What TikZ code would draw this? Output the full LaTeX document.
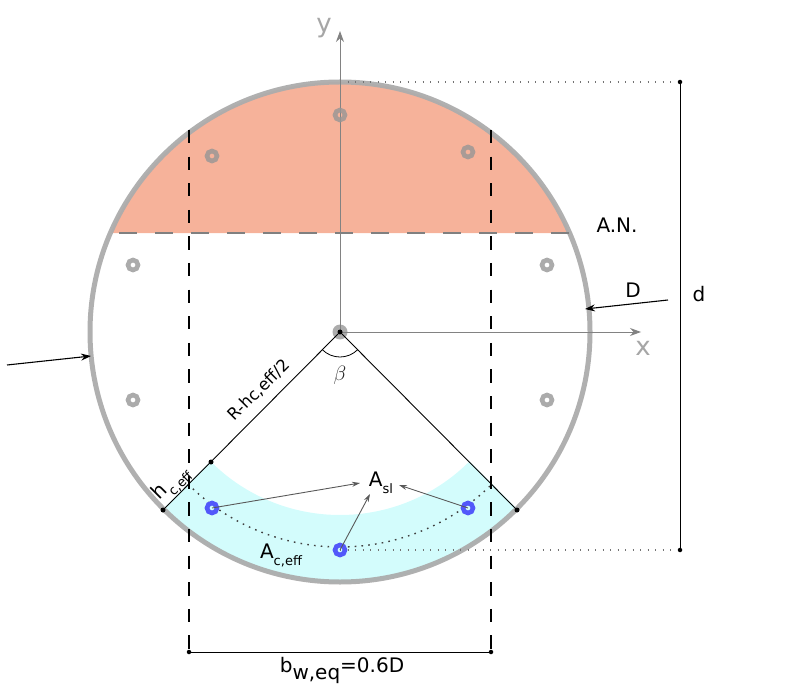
\documentclass[tikz,border=0pt]{standalone}
\usepackage{fontspec}
\setmainfont{DejaVu Sans}
\usetikzlibrary{arrows.meta}
\definecolor{ringgray}{RGB}{172,172,172}
\definecolor{rebargray}{RGB}{150,150,150}
\definecolor{axisgray}{RGB}{130,130,130}
\definecolor{rebarblue}{RGB}{82,88,250}
\definecolor{compzone}{RGB}{246,178,154}
\definecolor{tenszone}{RGB}{211,252,252}
\newcommand{\lowtxt}[2][13]{\raisebox{-0.35em}{\fontsize{#1}{#1}\selectfont #2}}
\begin{document}
\begin{tikzpicture}[x=1pt,y=-1pt,
    every node/.style = {font=\fontsize{20}{22}\selectfont},
    rebar/.style      = {circle, draw, line width=4.6pt, minimum size=10pt, inner sep=0pt},
    rebartop/.style   = {rebar, draw=rebargray, draw opacity=0.8},
    rebarlow/.style   = {rebar, draw=rebarblue},
    blackdot/.style   = {circle, fill=black, minimum size=5pt, inner sep=0pt},
    axisline/.style   = {draw=axisgray, line width=0.9pt, -{Stealth[length=11pt,width=8pt]}},
    leader/.style     = {draw=black!65, line width=0.9pt, -{Stealth[length=8pt,width=5pt]}},
    dimline/.style    = {draw=black, line width=0.8pt},
    dashline/.style   = {draw=black, line width=2.4pt, dash pattern=on 13.3pt off 13.3pt},
    dotline/.style    = {draw=black!55, line width=1.4pt, dash pattern=on 1.4pt off 6.1pt}]
  \useasboundingbox (0,0) rectangle (800,700);
  \coordinate (C) at (340,332);

  % zones
  \fill[compzone] (C) ++(203.3:250) arc[start angle=203.3, end angle=336.7, radius=250] -- cycle;
  \fill[tenszone] (C) ++(135:251) arc[start angle=135, end angle=45, radius=251]
    -- ++(225:68) arc[start angle=45, end angle=135, radius=183] -- cycle;

  % section outline and neutral axis
  \draw[ringgray, draw opacity=0.95, line width=5pt] (C) circle[radius=250];
  \coordinate (NAl) at (119,233);
  \coordinate (NAr) at (570,233);
  \draw[black!50, line width=1.7pt, dash pattern=on 18pt off 18pt] (NAl) -- (NAr);

  % dotted lines
  \draw[dotline, draw=black!75, dash pattern=on 1.6pt off 5.2pt] (C) ++(135:215) arc[start angle=135, end angle=45, radius=215];
  \coordinate (Dtop) at (680,82);
  \coordinate (Dbot) at (680,550);
  \draw[dotline] (340,82) -- (Dtop);
  \draw[dotline] (340,550) -- (Dbot);

  % axes
  \node[circle, fill=ringgray, minimum size=15pt, inner sep=0pt] (Cdisk) at (C) {};
  \coordinate (Xend) at (641,332);
  \coordinate (Yend) at (340,31);
  \draw[axisline] (C) -- (Xend);
  \draw[axisline] (C) -- (Yend);
  \node[text=black!35, font=\fontsize{26}{28}\selectfont] (xlab) at (643,348) {x};
  \node[text=black!35, font=\fontsize{26}{28}\selectfont] (ylab) at (324,28) {y};

  % effective width
  \coordinate (Bl1) at (189,130);
  \coordinate (Bl2) at (189,652);
  \coordinate (Br1) at (491,130);
  \coordinate (Br2) at (491,652);
  \draw[dashline] (Bl1) -- (Bl2);
  \draw[dashline] (Br1) -- (Br2);

  % rebars
  \node[rebartop] (s1) at (340,115) {};
  \node[rebartop] (s2) at (212,156) {};
  \node[rebartop] (s3) at (468,152) {};
  \node[rebartop] (s4) at (133,265) {};
  \node[rebartop] (s5) at (547,265) {};
  \node[rebartop] (s6) at (133,400) {};
  \node[rebartop] (s7) at (547,400) {};
  \node[rebarlow] (s8) at (212,508) {};
  \node[rebarlow] (s9) at (468,508) {};
  \node[rebarlow] (s10) at (340,550) {};

  % radii
  \node[blackdot] (O) at (C) {};
  \node[blackdot] (Pin) at (211,462) {};
  \node[blackdot] (Pl) at (163,510) {};
  \node[blackdot] (Pr) at (517,510) {};
  \draw[black, line width=0.9pt] (O) -- (Pl);
  \draw[black, line width=0.9pt] (O) -- (Pr);
  \draw[black, line width=0.8pt] (C) ++(135:25) arc[start angle=135, end angle=45, radius=25];
  \node[text=black!85, font=\fontsize{22}{24}\selectfont] (beta) at (340,375) {$\beta$};
  \node[rotate=45, font=\fontsize{16.5}{19}\selectfont] (Rlab) at (259,390) {R-hc,eff/2};
  \node[rotate=45] (hlab) at (172,484) {h\lowtxt{c,eff}};

  % labels
  \node (Asl) at (381,483) {A\lowtxt{sl}};
  \node (Aeff) at (281,555) {A\lowtxt{c,eff}};
  \draw[leader] (s8.center) -- (360,483);
  \draw[leader] (s10.center) -- (370,494);
  \draw[leader] (s9.center) -- (399,485);

  % dimensions
  \node[blackdot, minimum size=4.5pt] (Dt) at (Dtop) {};
  \node[blackdot, minimum size=4.5pt] (Db) at (Dbot) {};
  \draw[dimline] (Dt) -- (Db);
  \node (dlab) at (699,294) {d};
  \node[blackdot, minimum size=4.5pt] (Wl) at (Bl2) {};
  \node[blackdot, minimum size=4.5pt] (Wr) at (Br2) {};
  \draw[dimline] (Wl) -- (Wr);
  \node (blab) at (342,670) {b\lowtxt[20]{w,eq}=0.6D};
  \node (ANlab) at (617,225) {A.N.};

  % diameter arrows
  \coordinate (Ain) at (7,365);
  \coordinate (Aout) at (91,356);
  \coordinate (Bin) at (668,300);
  \coordinate (Bout) at (585,309);
  \draw[black, line width=1.1pt, -{Stealth[length=10pt,width=7pt]}] (Ain) -- (Aout);
  \draw[black, line width=1.1pt, -{Stealth[length=10pt,width=7pt]}] (Bin) -- (Bout);
  \node (Dlab) at (633,290) {D};
\end{tikzpicture}
\end{document}
